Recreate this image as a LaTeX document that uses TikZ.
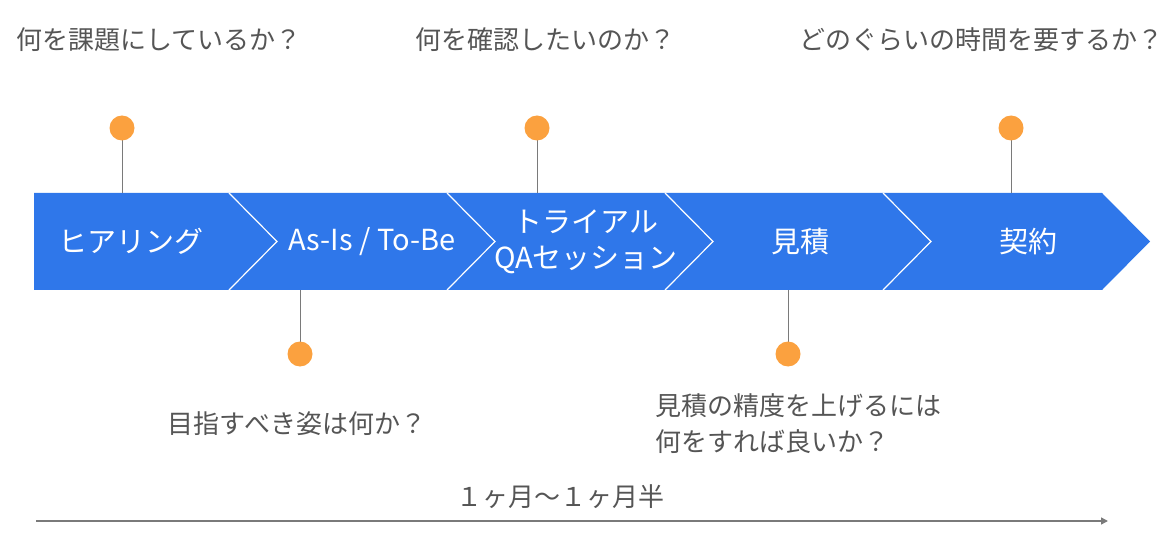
\documentclass[tikz,border=0pt]{standalone}
\usepackage{fontspec}
\setmainfont{Noto Sans CJK JP}
\usetikzlibrary{arrows.meta}
\usetikzlibrary{positioning}

\definecolor{bandblue}{HTML}{2F77EA}
\definecolor{dotorange}{HTML}{FBA13F}
\definecolor{textgray}{HTML}{555555}
\definecolor{linegray}{HTML}{7A7A7A}

\tikzset{
  stage/.style={text=white, font=\fontsize{29}{36}\selectfont, align=center, inner sep=0pt},
  pin/.style={circle, fill=dotorange, minimum size=25pt, inner sep=0pt},
  question/.style={text=textgray, font=\fontsize{26}{36}\selectfont, align=left, inner sep=0pt},
  stem/.style={linegray, line width=1pt},
}

\begin{document}
\begin{tikzpicture}[x=1pt,y=-1pt]
    \useasboundingbox (0,0) rectangle (1176,556);
    % band with chevron separators
    \fill[bandblue] (34,193) -- (1102,193) -- (1150,241.5) -- (1102,290) -- (34,290) -- cycle;
    \foreach \b in {229,447,665,883}{
            \draw[white, line width=1.2pt] (\b,193) --++ (48,48.5) --++ (-48,48.5);
        }
    \node[stage] (hearing) at (131,241.5) {ヒアリング};
    \node[stage] (asis) at (372,241.5) {As-Is / To-Be};
    \node[stage] (trial) at (586,241.5) {トライアル\\QAセッション};
    \node[stage] (estimate) at (800,241.5) {見積};
    \node[stage] (contract) at (1028,241.5) {契約};

    % pins
    \foreach \name/\x/\y/\e in {pa/122/128/193, pb/537/128/193, pc/1011/128/193, pd/300/354/290, pe/788/354/290}{
            \coordinate (\name-base) at (\x,\e);
            \draw[stem] (\x,\y) coordinate (\name-tip) -- (\name-base);
            \node[pin] (\name) at (\name-tip) {};
        }

    % questions
    \node[question] (qa) at (159,40) {何を課題にしているか？};
    \node[question] (qb) at (545,40) {何を確認したいのか？};
    \node[question] (qc) at (981,40) {どのぐらいの時間を要するか？};
    \node[question] (qd) at (297,424) {目指すべき姿は何か？};
    \node[question] (qe) at (798,424) {見積の精度を上げるには\\何をすれば良いか？};

    % duration
    \coordinate (start) at (36,521);
    \coordinate (end) at (1108,521);
    \draw[linegray, line width=1.5pt, -{Triangle[length=7pt,width=7pt]}] (start) -- (end);
    \node[question] (span) at (560,497) {１ヶ月〜１ヶ月半};
\end{tikzpicture}
\end{document}
